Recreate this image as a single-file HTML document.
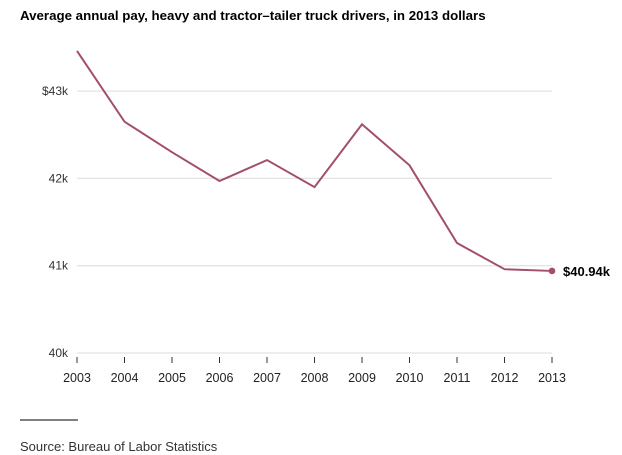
<!DOCTYPE html>
<html><head><meta charset="utf-8"><style>
body{margin:0;background:#fff;font-family:"Liberation Sans",Arial,sans-serif;}
svg{display:block}
</style></head><body>
<svg id="c" width="622" height="455">
<text x="20" y="20" font-size="13.3" font-weight="bold" fill="#000">Average annual pay, heavy and tractor–tailer truck drivers, in 2013 dollars</text>
<g id="grid"></g><g id="plot"></g>
<line x1="20" x2="78" y1="420" y2="420" stroke="#000" stroke-width="1"/>
<text x="20" y="451" font-size="13" fill="#333">Source: Bureau of Labor Statistics</text>
</svg>
<script>
const years=[2003,2004,2005,2006,2007,2008,2009,2010,2011,2012,2013];
const pay=[43.46,42.65,42.30,41.97,42.21,41.90,42.62,42.15,41.26,40.96,40.94];
const yTicks=[40,41,42,43];
const yTickLabels=["40k","41k","42k","$43k"];
const NS="http://www.w3.org/2000/svg";
const x=v=>77+(v-2003)*47.5;
const y=v=>353-(v-40)*87.3;
function mk(t,a,p){const e=document.createElementNS(NS,t);for(const k in a)e.setAttribute(k,a[k]);p.appendChild(e);return e;}
const g=document.getElementById('grid'),p=document.getElementById('plot');
yTicks.forEach((t,i)=>{
 const l=mk('line',{x1:77,x2:552,y1:y(t),y2:y(t),stroke:'#e4e4e4','stroke-width':1.3},g);
 
 
 const tx=mk('text',{x:68,y:y(t)+4,'text-anchor':'end','font-size':12,fill:'#333'},g);
 tx.textContent=yTickLabels[i];
 
 
});
years.forEach(yr=>{
 const t=mk('line',{x1:x(yr),x2:x(yr),y1:357,y2:363,stroke:'#333','stroke-width':1},g);
 
 
 const tx=mk('text',{x:x(yr),y:382,'text-anchor':'middle','font-size':12.5,fill:'#222'},g);
 tx.textContent=yr;
 
 
});
const path=mk('path',{d:years.map((yr,i)=>(i?'L':'M')+x(yr)+','+y(pay[i])).join(''),fill:'none',stroke:'#a34f6a','stroke-width':2},p);


const n=years.length-1;
const dot=mk('circle',{cx:x(years[n]),cy:y(pay[n]),r:3.3,fill:'#a34f6a'},p);


const lab=mk('text',{x:x(years[n])+11,y:y(pay[n])+5,'font-size':13,'font-weight':'bold',fill:'#000'},p);
lab.textContent='$'+pay[n].toFixed(2)+'k';


</script>
</body></html>
